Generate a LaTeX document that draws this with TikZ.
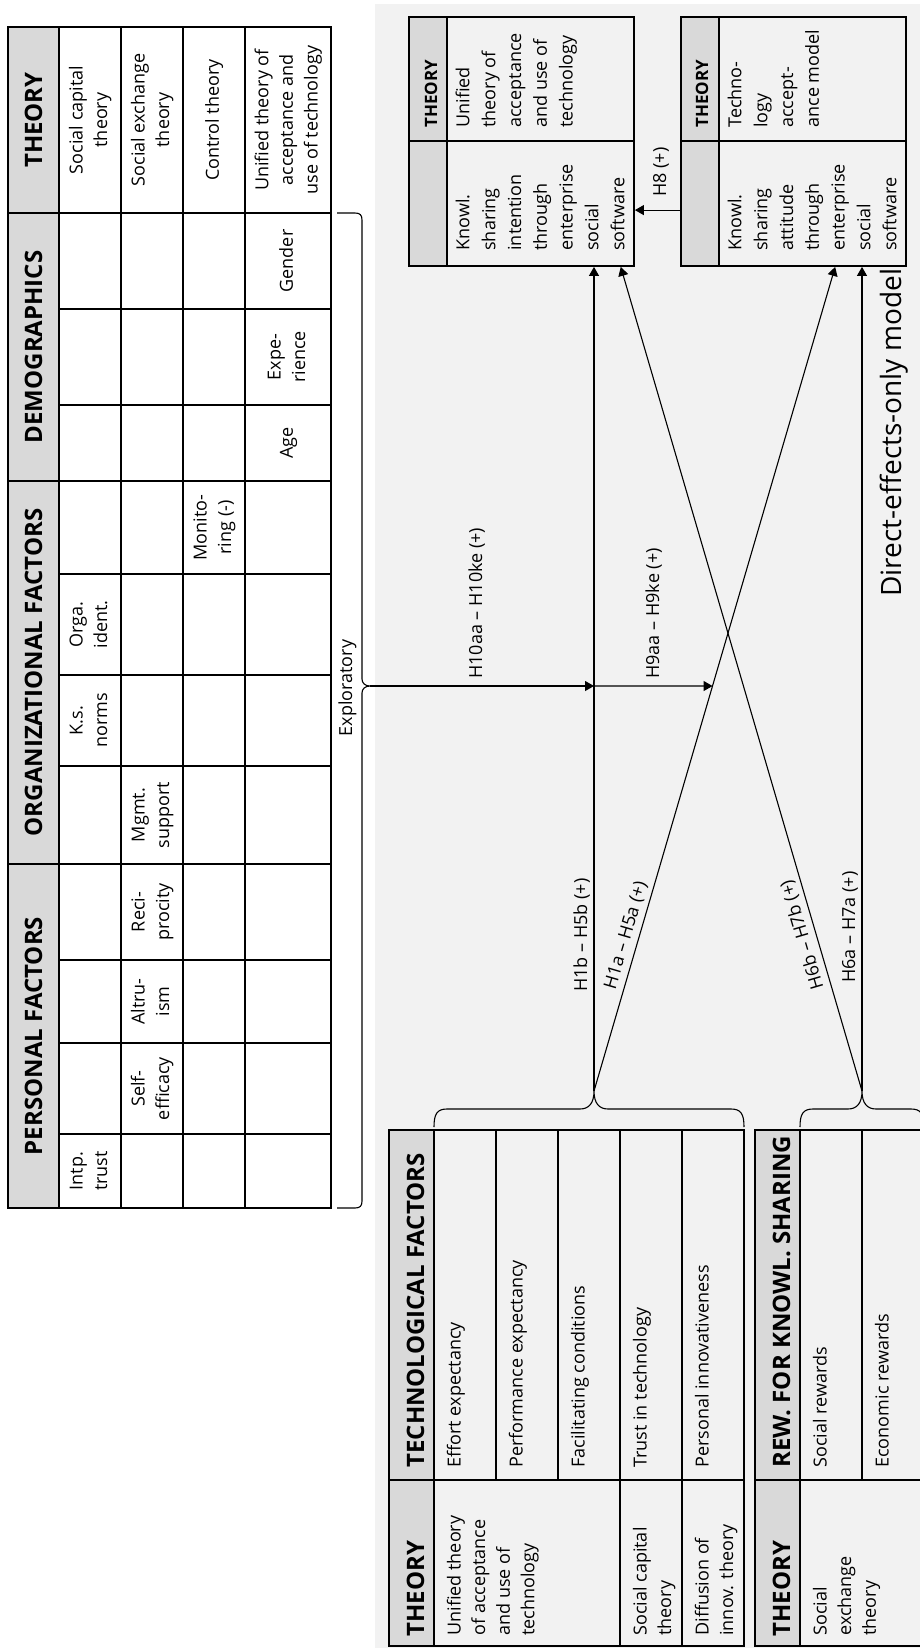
\documentclass[tikz,border=0pt]{standalone}
\usepackage{fontspec}
\setmainfont{Open Sans}
\usetikzlibrary{arrows.meta,fit,calc}
\definecolor{panelgray}{HTML}{F2F2F2}
\definecolor{headgray}{HTML}{D9D9D9}
\newcommand{\sline}[1]{\strut#1\strut}

\begin{document}
\begin{tikzpicture}[x=0.5pt,y=-0.5pt,
  tline/.style={line width=0.9pt},
  bline/.style={line width=0.55pt},
  arr/.style={line width=0.55pt,-{Triangle[length=4.5pt,width=5pt]}},
  body/.style={font=\fontsize{9}{12.3}\selectfont,inner sep=0pt,rotate=90},
  cell/.style={body,align=center},
  ltext/.style={body,align=left,anchor=north west},
  btext/.style={font=\fontsize{9}{12.9}\selectfont,inner sep=0pt,rotate=90,align=left,anchor=north west},
  hd/.style={font=\fontsize{12}{14}\selectfont\bfseries,inner sep=0pt,rotate=90},
  bhd/.style={font=\fontsize{8.5}{10}\selectfont\bfseries,inner sep=0pt,rotate=90,anchor=base west},
  lbl/.style={font=\fontsize{9}{12.3}\selectfont,inner sep=0pt,rotate=90,anchor=base west},
  slbl/.style={font=\fontsize{9}{12.3}\selectfont,inner sep=0pt,sloped,above},
  boxcell/.style={draw,line width=0.9pt,inner sep=0pt}]

\useasboundingbox (0,0) rectangle (920,1648);
\clip (0,0) rectangle (920,1648);
\fill[white] (0,0) rectangle (920,1648);
\fill[panelgray] (375,4) rectangle (920,1648);

% ---------- upper table: personal, organizational, demographic factors ----------
\fill[headgray] (8,27) rectangle (59,1208);
\draw[tline] (8,27) rectangle (331,1208);
\foreach \x in {59,121,183,245} \draw[tline] (\x,27) -- (\x,1208);
\foreach \y in {213,481,864} \draw[tline] (8,\y) -- (331,\y);
\foreach \y in {309,405,574,675,766,960,1043,1134} \draw[tline] (59,\y) -- (331,\y);

\node[hd,anchor=base] (hTheo) at (42,120) {THEORY};
\node[hd,anchor=base] (hDemo) at (42,347) {DEMOGRAPHICS};
\node[hd,anchor=base] (hOrga) at (42,672.5) {ORGANIZATIONAL FACTORS};
\node[hd,anchor=base] (hPers) at (42,1036) {PERSONAL FACTORS};

\node[cell] (cSct) at (90,120) {\sline{Social capital\\theory}};
\node[cell] (cSet) at (152,120) {\sline{Social exchange\\theory}};
\node[cell] (cCt) at (214,120) {\sline{Control theory}};
\node[cell] (cUt) at (288,120) {\sline{Unified theory of\\acceptance and\\use of technology}};
\node[cell] (cGen) at (288,261) {\sline{Gender}};
\node[cell] (cExp) at (288,357) {\sline{Expe-\\rience}};
\node[cell] (cAge) at (288,443) {\sline{Age}};
\node[cell] (cMon) at (214,527.5) {\sline{Monito-\\ring (-)}};
\node[cell] (cOid) at (90,624.5) {\sline{Orga.\\ident.}};
\node[cell] (cKsn) at (90,720.5) {\sline{K.s.\\norms}};
\node[cell] (cMgm) at (152,815) {\sline{Mgmt.\\support}};
\node[cell] (cRec) at (152,912) {\sline{Reci-\\procity}};
\node[cell] (cAlt) at (152,1001.5) {\sline{Altru-\\ism}};
\node[cell] (cSef) at (152,1088.5) {\sline{Self-\\efficacy}};
\node[cell] (cItr) at (90,1171) {\sline{Intp.\\trust}};

% brace gathering the upper table
\draw[bline] (337,213) -- (355,213) .. controls (360,213) and (362,215) .. (362,220)
  -- (362,679) .. controls (362,683) and (365,686) .. (370,686)
  .. controls (365,686) and (362,689) .. (362,693)
  -- (362,1201) .. controls (362,1206) and (360,1208) .. (355,1208) -- (337,1208);
\coordinate (tipE) at (370,686);
\node[body,anchor=base] (expl) at (352,688) {Exploratory};

% ---------- technological factors table ----------
\fill[headgray] (389,1130) rectangle (434,1646);
\draw[tline] (389,1130) rectangle (744,1646);
\foreach \x in {434,620,682} \draw[tline] (\x,1130) -- (\x,1646);
\foreach \x in {496,558} \draw[tline] (\x,1130) -- (\x,1480);
\draw[tline] (389,1480) -- (744,1480);

\node[hd,anchor=base west] (hTech) at (424,1468) {TECHNOLOGICAL FACTORS};
\node[hd,anchor=base west] (hTechTh) at (424,1637) {THEORY};
\node[ltext] (fEff) at (443,1468) {\sline{Effort expectancy}};
\node[ltext] (fPer) at (505,1468) {\sline{Performance expectancy}};
\node[ltext] (fFac) at (567,1468) {\sline{Facilitating conditions}};
\node[ltext] (fTru) at (629,1468) {\sline{Trust in technology}};
\node[ltext] (fInn) at (691,1468) {\sline{Personal innovativeness}};
\node[ltext] (tUt) at (443,1636) {\sline{Unified theory\\of acceptance\\and use of\\technology}};
\node[ltext] (tSc) at (629,1636) {\sline{Social capital\\theory}};
\node[ltext] (tDi) at (691,1636) {\sline{Diffusion of\\innov. theory}};

\draw[bline] (434,1127) .. controls (434,1114) and (437,1109) .. (447,1109) -- (580,1109)
  .. controls (589,1109) and (594,1103) .. (594,1091)
  .. controls (594,1103) and (599,1109) .. (608,1109) -- (731,1109)
  .. controls (741,1109) and (744,1114) .. (744,1127);
\coordinate (tipT) at (594,1091);

% ---------- rewards table ----------
\fill[headgray] (755,1130) rectangle (800,1646);
\draw[tline] (755,1130) rectangle (924,1646);
\draw[tline] (800,1130) -- (800,1646);
\draw[tline] (862,1130) -- (862,1480);
\draw[tline] (755,1480) -- (924,1480);

\node[hd,anchor=base west] (hRew) at (790,1468) {REW. FOR KNOWL. SHARING};
\node[hd,anchor=base west] (hRewTh) at (790,1637) {THEORY};
\node[ltext] (fSoc) at (809,1468) {\sline{Social rewards}};
\node[ltext] (fEco) at (871,1468) {\sline{Economic rewards}};
\node[ltext] (tSe) at (809,1636) {\sline{Social\\exchange\\theory}};

\draw[bline] (800,1127) .. controls (800,1114) and (803,1109) .. (813,1109) -- (848,1109)
  .. controls (857,1109) and (862,1103) .. (862,1091)
  .. controls (862,1103) and (867,1109) .. (876,1109) -- (911,1109)
  .. controls (921,1109) and (924,1114) .. (924,1127);
\coordinate (tipR) at (862,1091);

% ---------- outcome boxes ----------
\node[boxcell,fill=headgray,fit={(409,17) (447,141)}] (kh1a) {};
\node[boxcell,fill=headgray,fit={(409,141) (447,266)}] (kh1b) {};
\node[boxcell,fit={(447,17) (634,141)}] (kt1) {};
\node[boxcell,fit={(447,141) (634,266)}] (kint) {};
\node[bhd] (bTh1) at (437,128) {THEORY};
\node[btext] (bUt) at (451,128) {\sline{Unified\\theory of\\acceptance\\and use of\\technology}};
\node[btext] (bKi) at (451,251) {\sline{Knowl.\\sharing\\intention\\through\\enterprise\\social\\software}};

\node[boxcell,fill=headgray,fit={(681,17) (719,141)}] (kh2a) {};
\node[boxcell,fill=headgray,fit={(681,141) (719,266)}] (kh2b) {};
\node[boxcell,fit={(719,17) (906,141)}] (kt2) {};
\node[boxcell,fit={(719,141) (906,266)}] (katt) {};
\node[bhd] (bTh2) at (708,128) {THEORY};
\node[btext] (bTam) at (723,128) {\sline{Techno-\\logy\\accept-\\ance model}};
\node[btext] (bKa) at (723,251) {\sline{Knowl.\\sharing\\attitude\\through\\enterprise\\social\\software}};

% ---------- paths ----------
\coordinate (dA) at ($(katt.south west)!0.62!(katt.south east)$);
\coordinate (dB) at ($(kint.south west)!0.925!(kint.south east)$);

\draw[arr] (tipT) -- (tipT |- kint.south);
\draw[arr] (tipT) -- (dA);
\draw[arr] (tipR) -- (tipR |- katt.south);
\draw[arr] (tipR) -- (dB);

\coordinate (h8s) at ($(kh2b.south west)!0.448!(kh2b.north west)$);
\draw[arr] (h8s) -- (h8s -| kint.east);

\coordinate (m1) at (tipE -| tipT);
\coordinate (m2) at (intersection of tipT--dA and tipE--m1);
\draw[arr] (tipE) -- (m1);
\draw[arr] (m1) -- (m2);

\node[lbl] (l10) at (482,679) {H10aa – H10ke (+)};
\node[lbl] (l9) at (659,679) {H9aa – H9ke (+)};
\node[lbl] (l1b) at (587,992) {H1b – H5b (+)};
\node[lbl] (l6a) at (855,983) {H6a – H7a (+)};
\node[lbl] (l8) at (666,197) {H8 (+)};
\path (tipT) -- (dA) node[slbl,pos=0.184] (l1a) {\strut H1a – H5a (+)};
\path (tipR) -- (dB) node[slbl,pos=0.194,allow upside down] (l6b) {\strut H6b – H7b (+)};

\node[font=\fontsize{14}{17}\selectfont,inner sep=0pt,rotate=90,anchor=base west] (title) at (901,597) {Direct-effects-only model};
\end{tikzpicture}
\end{document}
